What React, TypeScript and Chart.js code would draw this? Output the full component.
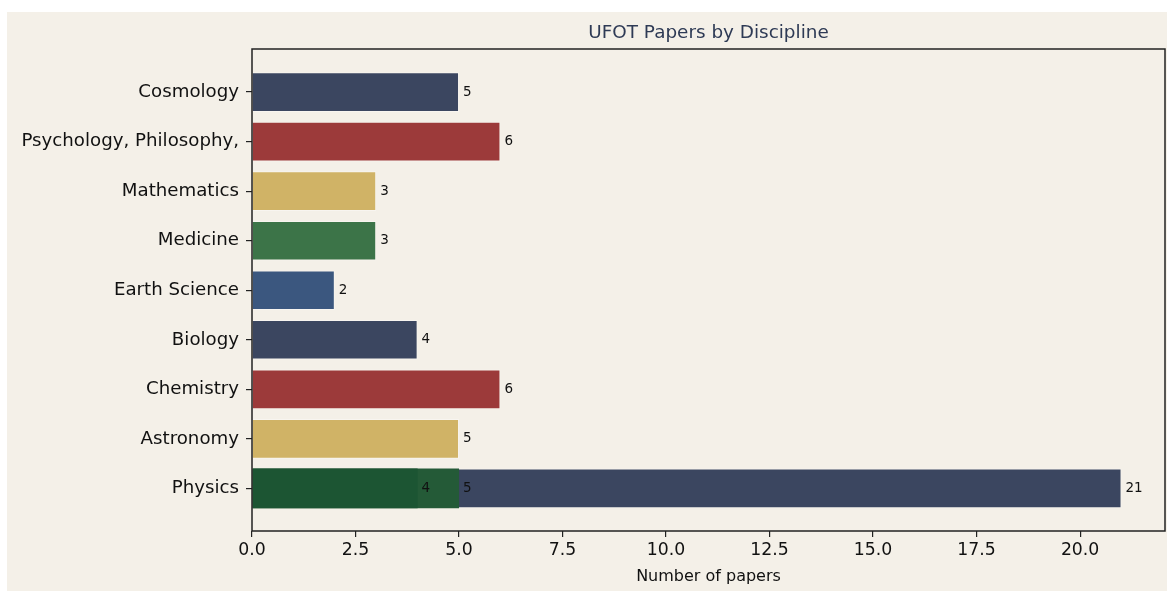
import React, { useEffect, useRef } from "react";
import { Chart, registerables } from "chart.js";

Chart.register(...registerables);

// bottom-to-top order (matplotlib barh order)
const categories = [
  "Physics",
  "Astronomy",
  "Chemistry",
  "Biology",
  "Earth Science",
  "Medicine",
  "Mathematics",
  "Psychology, Philosophy,",
  "Cosmology",
];
const paperCounts = [21, 5, 6, 4, 2, 3, 3, 6, 5];
const barColors = [
  "#3b4660",
  "#d0b366",
  "#9c3a3a",
  "#3b4660",
  "#3b577f",
  "#3c7448",
  "#d0b366",
  "#9c3a3a",
  "#3b4660",
];
// extra overlapping Physics bars
const physicsExtraValues = [5, 4];
const physicsExtraColors = ["#245a37", "#1c5533"];

const xTicks = [0, 2.5, 5, 7.5, 10, 12.5, 15, 17.5, 20];

const FONT = "'DejaVu Sans', sans-serif";
const BG = "#f4f0e8";

export default function App() {
  const ref = useRef<HTMLCanvasElement | null>(null);

  useEffect(() => {
    const canvas = ref.current;
    if (!canvas) return;

    const bgPlugin = {
      id: "bg",
      beforeDraw(chart: any) {
        const ctx = chart.ctx;
        ctx.save();
        ctx.fillStyle = BG;
        ctx.fillRect(0, 0, chart.width, chart.height);
        ctx.restore();
      },
      afterDraw(chart: any) {
        const ctx = chart.ctx;
        const a = chart.chartArea;
        const xs = chart.scales.x;
        const ys = chart.scales.y;
        ctx.save();
        // frame
        ctx.strokeStyle = "#222";
        ctx.lineWidth = 1.5;
        ctx.strokeRect(a.left, a.top, a.right - a.left, a.bottom - a.top);
        // title
        ctx.fillStyle = "#2e3a55";
        ctx.font = `18.4px ${FONT}`;
        ctx.textAlign = "center";
        ctx.textBaseline = "middle";
        ctx.fillText("UFOT Papers by Discipline", (a.left + a.right) / 2, 21);
        // value labels
        ctx.fillStyle = "#111";
        ctx.font = `13.5px ${FONT}`;
        ctx.textAlign = "left";
        const draw = (v: number, idx: number) => {
          ctx.fillText(String(v), xs.getPixelForValue(v) + 4, ys.getPixelForValue(idx));
        };
        paperCounts.forEach((v, i) => draw(v, i));
        physicsExtraValues.forEach((v) => draw(v, 0));
        ctx.restore();
      },
    };

    const edge = "rgba(255,255,255,0.35)";

    const chart = new Chart(canvas, {
      type: "bar",
      data: {
        datasets: [
          {
            data: paperCounts.map((v, i) => ({ x: v, y: i })),
            backgroundColor: barColors,
            borderColor: edge,
            borderWidth: 1,
            order: 3,
          },
          {
            data: [{ x: physicsExtraValues[0], y: 0 }],
            backgroundColor: physicsExtraColors[0],
            borderColor: edge,
            borderWidth: 0,
            order: 2,
          },
          {
            data: [{ x: physicsExtraValues[1], y: 0 }],
            backgroundColor: physicsExtraColors[1],
            borderColor: edge,
            borderWidth: 0,
            order: 1,
          },
        ] as any,
      },
      options: {
        indexAxis: "y",
        responsive: false,
        animation: false,
        events: [],
        layout: { padding: { top: 37, right: 2, left: 0, bottom: 0 } },
        datasets: {
          bar: { grouped: false, categoryPercentage: 1, barPercentage: 0.8 },
        } as any,
        plugins: {
          legend: { display: false },
          tooltip: { enabled: false },
          title: { display: false },
        },
        scales: {
          x: {
            type: "linear",
            min: 0,
            max: 22.05,
            offset: false,
            afterBuildTicks(scale: any) {
              scale.ticks = xTicks.map((v) => ({ value: v }));
            },
            afterFit(scale: any) {
              scale.height = 60;
            },
            ticks: {
              color: "#111",
              font: { family: FONT, size: 17.3 },
              padding: 3,
              maxRotation: 0,
              autoSkip: false,
              callback: (v: any) => Number(v).toFixed(1),
            },
            grid: {
              display: true,
              offset: false,
              drawOnChartArea: false,
              drawTicks: true,
              tickLength: 6,
              color: "#222",
              lineWidth: 1.2,
            },
            border: { display: false },
            title: {
              display: true,
              text: "Number of papers",
              color: "#111",
              font: { family: FONT, size: 16 },
              padding: { top: 0, bottom: 5 },
            },
          },
          y: {
            type: "linear",
            min: -0.86,
            max: 8.87,
            offset: false,
            afterBuildTicks(scale: any) {
              scale.ticks = categories.map((_, i) => ({ value: i }));
            },
            afterFit(scale: any) {
              scale.width = 245;
            },
            ticks: {
              color: "#111",
              font: { family: FONT, size: 18.2 },
              padding: 7,
              autoSkip: false,
              callback: (v: any) => categories[Math.round(Number(v))] ?? "",
            },
            grid: {
              display: true,
              offset: false,
              drawOnChartArea: false,
              drawTicks: true,
              tickLength: 6,
              color: "#222",
              lineWidth: 1.2,
            },
            border: { display: false },
          },
        },
      },
      plugins: [bgPlugin],
    } as any);

    return () => chart.destroy();
  }, []);

  return (
    <div
      style={{
        position: "absolute",
        left: 7,
        top: 12,
        width: 1160,
        height: 579,
        background: BG,
      }}
    >
      <canvas ref={ref} width={1160} height={579} style={{ width: 1160, height: 579, display: "block" }} />
    </div>
  );
}
